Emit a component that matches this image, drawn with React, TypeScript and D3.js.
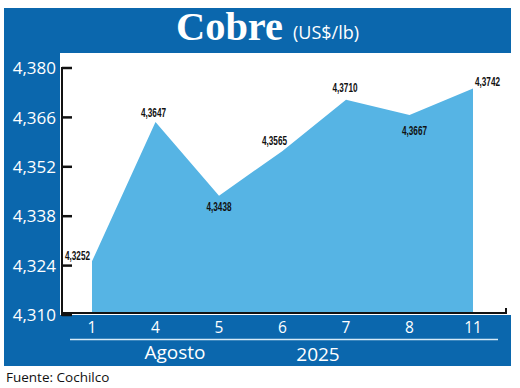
import React from 'react';
import * as d3 from 'd3';

// Precio del cobre, agosto 2025 (US$/lb)
const days = ['1', '4', '5', '6', '7', '8', '11'];
const prices = [4.3252, 4.3647, 4.3438, 4.3565, 4.371, 4.3667, 4.3742];
const yTicks = [4.31, 4.324, 4.338, 4.352, 4.366, 4.38];
const monthLabel = 'Agosto';
const yearLabel = '2025';

// where each value label sits relative to its point
const labelPlace = [
  { dx: -2, dy: -1, anchor: 'end' },
  { dx: -2, dy: -5, anchor: 'middle' },
  { dx: 0, dy: 15, anchor: 'middle' },
  { dx: -8, dy: -6, anchor: 'middle' },
  { dx: -1, dy: -8, anchor: 'middle' },
  { dx: 5, dy: 20, anchor: 'middle' },
  { dx: 2, dy: -2, anchor: 'start' },
];

const BLUE = '#0b67ad';
const AREA = '#56b4e4';

const locale = d3.formatLocale({ decimal: ',', thousands: '.', grouping: [3], currency: ['US$', ''] });
const fmtTick = locale.format('.3f');
const fmtVal = locale.format('.4f');

export default function App() {
  const width = 520;
  const height = 388;
  const axisX = 62;
  const axisY = 313;

  const x = d3.scalePoint<string>().domain(days).range([92, 473]);
  const y = d3.scaleLinear().domain([4.31, 4.38]).range([315, 68]);

  const area = d3.area<number>()
    .x((_, i) => x(days[i]) as number)
    .y0(axisY)
    .y1(d => y(d));

  const sans = '"Open Sans", "Noto Sans", sans-serif';
  const narrow = '"Liberation Sans", "DejaVu Sans Condensed", sans-serif';

  return (
    <svg width={width} height={height} style={{ position: 'absolute', left: 0, top: 0 }}>
      <rect x={0} y={0} width={width} height={height} fill="#fff" />
      {/* frame */}
      <rect x={4} y={8} width={507} height={45} fill={BLUE} />
      <rect x={4} y={8} width={56} height={358} fill={BLUE} />
      <rect x={4} y={315} width={507} height={51} fill={BLUE} />

      {/* title */}
      <text x={176} y={40} fill="#fff" fontFamily='"Liberation Serif", "DejaVu Serif", serif'
        fontWeight="bold" fontSize={39} textLength={107} lengthAdjust="spacingAndGlyphs">Cobre</text>
      <text x={293} y={39} fill="#fff" fontFamily={sans} fontSize={18}>(US$/lb)</text>

      {/* area */}
      <path d={area(prices) || ''} fill={AREA} />

      {/* axes */}
      <line x1={axisX} x2={axisX} y1={y(4.38) - 1} y2={y(4.31) + 1} stroke="#111" strokeWidth={2} />
      <line x1={axisX} x2={506} y1={axisY} y2={axisY} stroke="#111" strokeWidth={2} />
      <line x1={506} x2={506} y1={axisY + 1} y2={axisY - 5} stroke="#111" strokeWidth={2} />
      {yTicks.map(t => (
        <g key={t}>
          <line x1={axisX} x2={axisX + 10} y1={y(t)} y2={y(t)} stroke="#111" strokeWidth={2.5} />
          <text x={56} y={y(t)} dy="0.36em" textAnchor="end" fill="#fff"
            fontFamily={sans} fontSize={17}>{fmtTick(t)}</text>
        </g>
      ))}

      {/* x labels */}
      {days.map(d => (
        <text key={d} x={x(d)} y={333} textAnchor="middle" fill="#fff"
          fontFamily={sans} fontSize={15.5}>{d}</text>
      ))}
      <line x1={70} x2={498} y1={339.5} y2={339.5} stroke="#d6eaf8" strokeWidth={1.5} />
      <text x={175} y={359} textAnchor="middle" fill="#fff" fontFamily={sans} fontSize={19}>{monthLabel}</text>
      <text x={318} y={361} textAnchor="middle" fill="#fff" fontFamily={sans} fontSize={19}>{yearLabel}</text>

      {/* value labels */}
      {prices.map((v, i) => {
        const p = labelPlace[i];
        return (
          <text key={i} x={(x(days[i]) as number) + p.dx} y={y(v) + p.dy}
            textAnchor={p.anchor as any} fill="#111" fontFamily={narrow}
            fontWeight="bold" fontSize={13} textLength={25}
            lengthAdjust="spacingAndGlyphs">{fmtVal(v)}</text>
        );
      })}

      <text x={6} y={382} fill="#111" fontFamily={sans} fontSize={13.5}>Fuente: Cochilco</text>
    </svg>
  );
}
